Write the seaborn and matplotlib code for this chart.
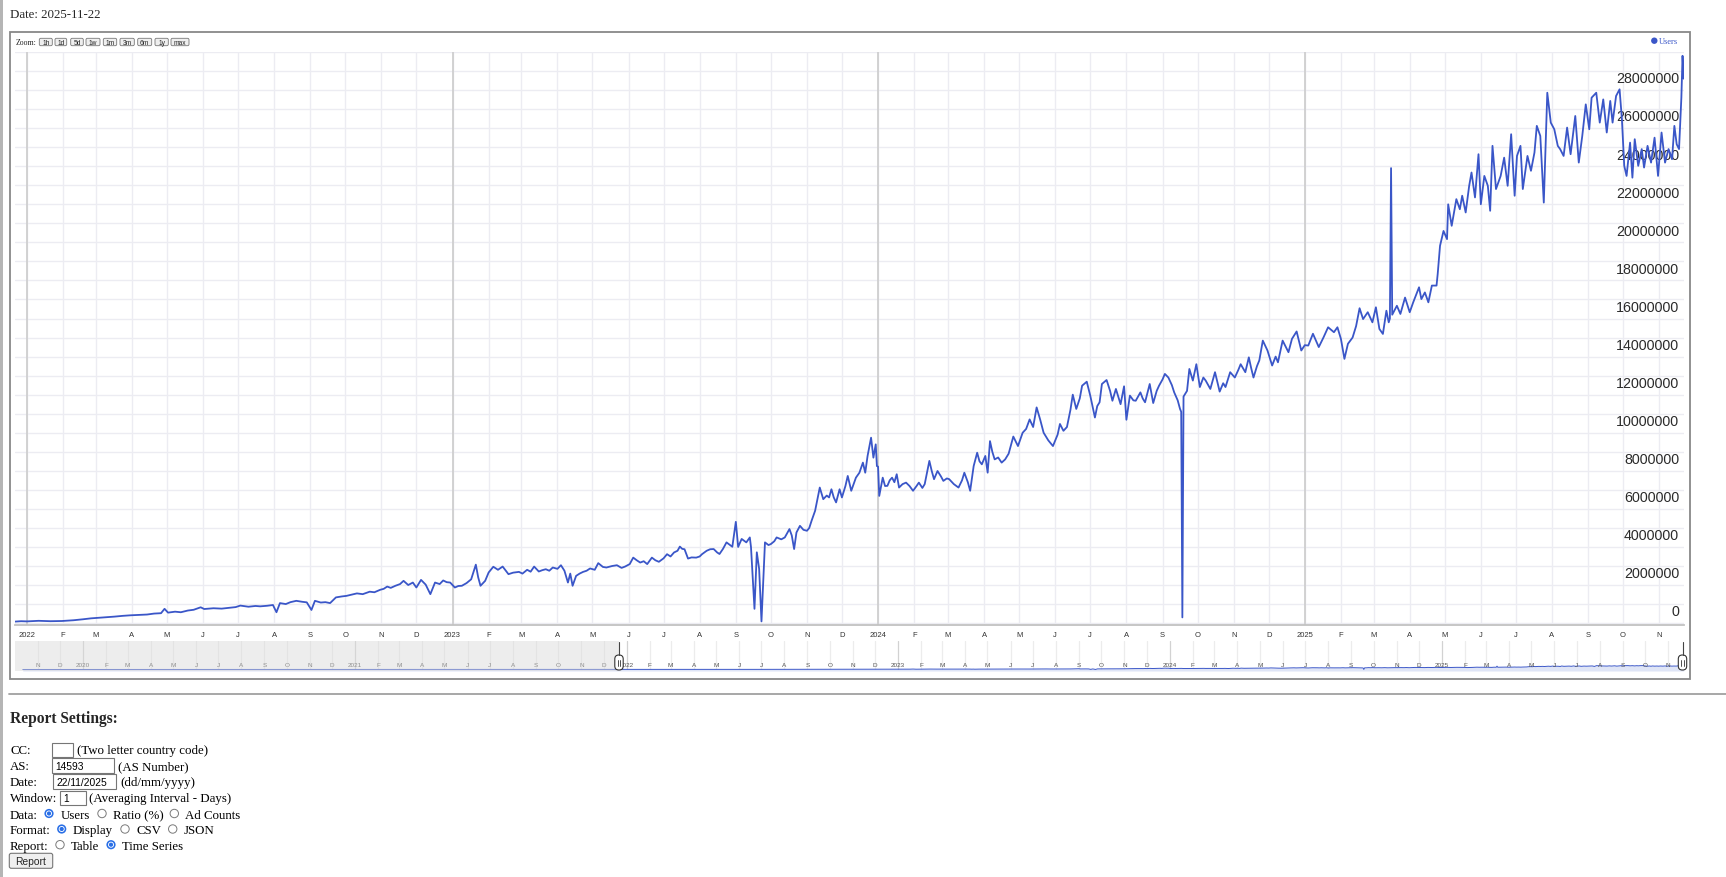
import matplotlib
matplotlib.use("Agg")
import matplotlib.pyplot as plt
from matplotlib.patches import Rectangle, Circle, FancyBboxPatch
import seaborn as sns
import pandas as pd
import numpy as np

# daily users in millions (day 0 = 2022-01-01)
days_pre = [-812, -780, -750, -720, -690, -660, -630, -600, -570, -540, -510, -480, -450, -420, -390,
            -360, -330, -300, -270, -240, -210, -180, -150, -120, -90, -60, -30, -10, -5]
users_pre = [0.03, 0.03, 0.04, 0.04, 0.05, 0.05, 0.05, 0.06, 0.06, 0.06, 0.07, 0.07, 0.07, 0.08, 0.08,
             0.08, 0.08, 0.09, 0.09, 0.09, 0.09, 0.1, 0.1, 0.1, 0.1, 0.1, 0.09, 0.08, 0.1]

days_2022 = [0, 10, 20, 30, 40, 48, 55, 62, 68, 75, 82, 89, 96, 103, 109, 115, 118, 121, 127, 132,
             138, 143, 149, 152, 160, 167, 174, 179, 183, 190, 196, 200, 206, 211, 214, 217, 222, 226, 231, 236,
             240, 244, 247, 252, 256, 260, 265, 270, 274, 279, 283, 288, 294, 298, 303, 306, 309, 312, 316, 320,
             323, 327, 331, 334, 338, 342, 346, 350, 354, 357, 360, 363]
users_2022 = [0.09, 0.12, 0.1, 0.11, 0.15, 0.2, 0.25, 0.28, 0.3, 0.34, 0.38, 0.41, 0.43, 0.45, 0.5, 0.52, 0.75, 0.55, 0.6, 0.57,
              0.66, 0.7, 0.83, 0.74, 0.78, 0.76, 0.81, 0.84, 0.92, 0.86, 0.9, 0.88, 0.91, 0.95, 0.57, 1.05, 1.0, 1.1, 1.17, 1.12,
              1.09, 0.69, 1.17, 1.08, 1.1, 1.05, 1.35, 1.4, 1.43, 1.5, 1.56, 1.52, 1.65, 1.62, 1.75, 1.8, 1.92, 1.85, 1.96, 2.05,
              2.22, 2.0, 2.13, 1.87, 2.27, 2.02, 1.52, 2.13, 2.05, 2.24, 2.15, 2.13]

days_2023 = [367, 370, 373, 377, 381, 385, 387, 389, 393, 396, 400, 404, 408, 413, 417, 422, 425, 429, 432, 435,
             439, 442, 445, 448, 451, 455, 458, 461, 464, 466, 468, 471, 474, 477, 480, 483, 487, 490, 494, 497,
             502, 506, 510, 513, 517, 520, 523, 526, 529, 532, 536, 539, 542, 546, 549, 552, 555, 558, 560, 562,
             564, 567, 570, 574, 577, 579, 583, 586, 589, 592, 594, 597, 600, 603, 605, 608, 610, 613, 617, 620,
             621, 624, 626, 628, 630, 633, 636, 638, 641, 643, 647, 650, 654, 656, 658, 660, 663, 666, 669, 671,
             673, 676, 680, 683, 686, 688, 690, 692, 694, 697, 699, 702, 704, 707, 709, 711, 714, 717, 719, 721,
             724, 726, 728, 729]
users_2023 = [1.87, 1.95, 1.96, 2.1, 2.3, 3.07, 2.41, 1.96, 2.22, 2.66, 2.96, 2.8, 2.97, 2.57, 2.65, 2.69, 2.6, 2.8, 2.7, 2.97,
              2.71, 2.78, 2.83, 2.75, 2.92, 2.85, 3.04, 2.75, 2.13, 2.6, 1.96, 2.48, 2.6, 2.69, 2.75, 2.87, 2.8, 3.15, 2.95, 2.92,
              3.0, 3.04, 2.9, 2.97, 3.1, 3.44, 3.3, 3.18, 3.25, 3.1, 3.44, 3.3, 3.22, 3.4, 3.62, 3.5, 3.71, 3.8, 4.02, 3.9,
              3.88, 3.39, 3.45, 3.44, 3.5, 3.62, 3.8, 3.88, 3.89, 3.71, 3.63, 3.9, 4.24, 4.1, 4.01, 5.32, 4.0, 4.42, 4.24, 4.5,
              4.0, 0.75, 3.72, 2.85, 0.09, 4.24, 4.1, 4.15, 4.3, 4.5, 4.4, 4.5, 4.94, 4.6, 3.89, 4.76, 5.11, 4.9, 4.85, 5.0,
              5.38, 5.9, 7.12, 6.51, 6.7, 6.6, 7.03, 6.6, 6.34, 7.03, 6.6, 7.2, 7.73, 6.95, 7.3, 7.64, 7.9, 8.43, 7.9, 8.78,
              9.74, 8.69, 9.39, 8.25]

days_2024 = [730, 731, 734, 736, 738, 740, 742, 744, 746, 748, 751, 754, 757, 760, 763, 765, 768, 770, 772, 774,
             776, 778, 781, 784, 786, 789, 791, 795, 799, 802, 804, 807, 809, 812, 815, 817, 819, 822, 824, 826,
             828, 830, 833, 836, 839, 842, 846, 850, 854, 857, 860, 863, 866, 869, 872, 876, 880, 884, 886, 889,
             892, 895, 897, 900, 903, 905, 909, 912, 916, 918, 920, 922, 926, 929, 931, 934, 936, 938, 941, 943,
             946, 949, 951, 955, 957, 959, 963, 966, 969, 971, 974, 976, 979, 982, 984, 987, 989, 990, 991, 992,
             995, 997, 1000, 1003, 1006, 1009, 1011, 1015, 1019, 1023, 1026, 1028, 1032, 1036, 1039, 1041, 1045, 1048, 1050, 1052,
             1055, 1057, 1060, 1064, 1068, 1071, 1073, 1077, 1082, 1085, 1089, 1093]
users_2024 = [8.22, 6.68, 7.64, 7.2, 7.21, 7.5, 7.64, 7.4, 7.82, 7.12, 7.3, 7.38, 7.2, 6.95, 7.2, 7.38, 7.1, 7.3, 7.9, 8.52,
              8.0, 7.56, 7.99, 7.7, 7.47, 7.6, 7.56, 7.3, 7.12, 7.5, 7.9, 7.4, 6.95, 8.25, 8.95, 8.5, 8.34, 8.78, 7.9, 9.56,
              9.0, 8.6, 8.7, 8.43, 8.6, 8.9, 9.8, 9.3, 10.0, 10.2, 10.7, 10.3, 11.33, 10.7, 10.0, 9.6, 9.3, 9.9, 10.46, 10.1,
              10.3, 11.2, 12.0, 11.25, 11.8, 12.47, 12.68, 11.95, 10.8, 11.4, 11.6, 12.56, 12.77, 12.2, 11.68, 12.3, 11.9, 11.5, 12.44, 10.68,
              11.95, 11.7, 11.68, 12.12, 11.8, 11.6, 12.56, 11.56, 12.2, 12.47, 12.8, 13.09, 12.9, 12.5, 12.12, 11.7, 11.25, 11.1, 0.3, 11.9,
              12.2, 13.35, 12.74, 13.6, 12.4, 12.9, 12.74, 12.3, 13.18, 12.16, 12.6, 12.4, 13.18, 12.9, 13.3, 13.6, 13.18, 13.96, 13.4, 12.9,
              13.5, 13.8, 14.84, 14.32, 13.53, 14.0, 13.7, 14.84, 14.23, 14.93, 15.32, 14.32]

days_2025 = [1096, 1099, 1103, 1108, 1112, 1116, 1121, 1124, 1127, 1130, 1133, 1137, 1140, 1143, 1146, 1150, 1154, 1157, 1160, 1163,
             1166, 1168, 1169, 1170, 1171, 1175, 1178, 1182, 1186, 1189, 1194, 1196, 1199, 1202, 1205, 1209, 1210, 1212, 1215, 1218,
             1219, 1222, 1226, 1229, 1231, 1234, 1237, 1239, 1242, 1245, 1247, 1250, 1253, 1255, 1257, 1260, 1264, 1267, 1270, 1273,
             1276, 1278, 1281, 1283, 1287, 1290, 1293, 1295, 1298, 1301, 1304, 1307, 1310, 1313, 1315, 1318, 1321, 1324, 1328, 1331,
             1334, 1337, 1340, 1342, 1346, 1349, 1352, 1355, 1358, 1360, 1363, 1366, 1368, 1370, 1372, 1375, 1377, 1379, 1382, 1385,
             1387, 1390, 1393, 1396, 1399, 1402, 1405, 1408, 1411, 1413, 1415, 1417, 1419, 1420, 1421]
users_2025 = [14.6, 14.58, 15.2, 14.5, 15.0, 15.54, 15.28, 15.54, 14.93, 13.88, 14.67, 15.0, 15.6, 16.54, 15.97, 16.33, 15.8, 16.59, 15.45, 15.19,
              16.41, 15.8, 16.0, 23.9, 16.2, 16.67, 16.24, 17.1, 16.33, 16.85, 17.64, 17.02, 17.37, 16.85, 17.73, 17.73, 18.34, 19.82, 20.6, 20.17,
              22.0, 20.87, 22.27, 21.74, 22.45, 21.57, 22.97, 23.67, 22.36, 24.63, 22.0, 23.49, 22.97, 21.66, 25.07, 22.8, 23.49, 24.45, 22.97, 25.68,
              22.45, 24.54, 25.07, 22.8, 24.54, 23.76, 24.72, 26.12, 25.59, 22.09, 27.86, 26.29, 25.94, 25.07, 24.9, 24.54, 26.03, 24.63, 26.64, 24.19,
              25.59, 27.25, 25.94, 27.6, 27.86, 26.29, 27.51, 25.77, 27.43, 26.29, 27.69, 28.04, 26.47, 24.02, 23.49, 25.24, 23.4, 25.42, 24.02, 24.9,
              23.93, 25.07, 24.19, 25.5, 23.49, 25.77, 24.19, 24.9, 24.37, 26.12, 25.15, 24.9, 27.6, 29.8, 28.6]

month_letters = ["J", "F", "M", "A", "M", "J", "J", "A", "S", "O", "N", "D"]
y_label_values = list(range(0, 28000001, 2000000))
zoom_buttons = ["1h", "1d", "5d", "1w", "1m", "3m", "6m", "1y", "max"]

LINE = "#3a56c8"
RADIO = "#2a6fe6"
SERIF = ["Liberation Serif", "DejaVu Serif"]
SANS = ["Liberation Sans", "DejaVu Sans"]
W, H = 1726, 878


def box(x0, y0, x1, y1):
    # pixel box (top-left origin) -> figure fraction rect
    return [x0 / W, 1 - y1 / H, (x1 - x0) / W, (y1 - y0) / H]


origin = pd.Timestamp("2022-01-01")
all_days = days_pre + days_2022 + days_2023 + days_2024 + days_2025
all_users = users_pre + users_2022 + users_2023 + users_2024 + users_2025
df = pd.DataFrame({"date": origin + pd.to_timedelta(all_days, unit="D"),
                   "users": np.array(all_users) * 1e6})

view_start = pd.Timestamp("2021-12-22")
view_end = pd.Timestamp("2025-11-22")
sel_start = pd.Timestamp("2019-10-02")

sns.set_style("white")
plt.rcParams["font.family"] = SANS

fig = plt.figure(figsize=(W / 100, H / 100), dpi=100)
fig.patch.set_facecolor("white")

# ---- main chart ----
ax = fig.add_axes(box(15.3, 53, 1683.7, 626))
main = df[df["date"] >= view_start]
sns.lineplot(data=main, x="date", y="users", ax=ax, color=LINE, linewidth=1.3,
             estimator=None, zorder=3)
ax.set_xlim(view_start, view_end)
ax.set_ylim(-0.1e6, 30e6)
ax.set_yticks(np.arange(0, 31e6, 1e6))
ax.set_yticklabels([])
months = pd.date_range("2022-01-01", "2025-11-01", freq="MS")
ax.set_xticks(months)
ax.set_xticklabels([str(d.year) if d.month == 1 else month_letters[d.month - 1] for d in months],
                   fontsize=5.5, color="#333333")
ax.tick_params(axis="both", length=0)
ax.tick_params(axis="x", pad=4.3)
ax.set_axisbelow(True)
ax.grid(True, color="#ececf2", linewidth=1.0)
for d in months[months.month == 1]:
    ax.axvline(d, color="#cfcfcf", linewidth=1.3, zorder=1)
for s in ["top", "right", "left"]:
    ax.spines[s].set_visible(False)
ax.spines["bottom"].set_color("#c2c2c2")
ax.spines["bottom"].set_linewidth(1.3)
ax.set_xlabel("")
ax.set_ylabel("")
for v in y_label_values:
    ax.annotate(str(v), xy=(1, v), xycoords=("axes fraction", "data"), xytext=(-4.5, 11.7),
                textcoords="offset pixels", ha="right", va="center", fontsize=10.3,
                color="#2a2a2a", annotation_clip=False, zorder=2)

# ---- range selector ----
ax2 = fig.add_axes(box(15.3, 642, 1683.7, 672))
ax2.fill_between(df["date"], df["users"], -11e6, color="#dfe5f6", linewidth=0, zorder=1)
sns.lineplot(data=df, x="date", y="users", ax=ax2, color=LINE, linewidth=0.7,
             estimator=None, zorder=2)
ax2.set_xlim(sel_start, view_end)
ax2.set_ylim(-11e6, 206e6)
sel_months = pd.date_range("2019-11-01", "2025-11-01", freq="MS")
for d in sel_months:
    ax2.axvline(d, color="#d2d2d2" if d.month == 1 else "#ececec", linewidth=0.9, zorder=0)
    lab = str(d.year) if d.month == 1 else month_letters[d.month - 1]
    ax2.text(d, 0.2, lab, transform=ax2.get_xaxis_transform(), ha="center", va="center",
             fontsize=4.6, color="#555555", zorder=3)
ax2.axvspan(sel_start, view_start, color="#d9d9d9", alpha=0.45, linewidth=0, zorder=5)
ax2.set_xticks([])
ax2.set_yticks([])
ax2.set_xlabel("")
ax2.set_ylabel("")
for s in ax2.spines.values():
    s.set_visible(False)

# ---- page overlay in pixel coordinates ----
ov = fig.add_axes([0, 0, 1, 1])
ov.set_zorder(10)
ov.patch.set_alpha(0)
ov.set_xlim(0, W)
ov.set_ylim(H, 0)
ov.axis("off")

ov.add_patch(Rectangle((0, 0), 2.7, H, color="#b5b5b5", lw=0))
ov.text(10, 14.5, "Date: 2025-11-22", family=SERIF, fontsize=9.3, va="center")
ov.add_patch(Rectangle((10, 33), 1680, 647, fill=False, ec="#888888", lw=1.3))

# zoom buttons
ov.text(15.7, 42.7, "Zoom:", family=SERIF, fontsize=5.7, va="center", color="#222222")
btn_x = [(39.3, 52.3), (55, 66.7), (70.7, 83.3), (86, 100), (103.3, 116.7), (120, 134.3),
         (137.7, 151.7), (155, 168.3), (171, 189)]
for lab, (x0, x1) in zip(zoom_buttons, btn_x):
    ov.add_patch(FancyBboxPatch((x0, 39.3), x1 - x0, 7.4, boxstyle="round,pad=0,rounding_size=1.5",
                                fc="#efefef", ec="#777777", lw=0.6))
    ov.text((x0 + x1) / 2, 43.1, lab, family=SANS, fontsize=4.8, ha="center", va="center", color="#222222")

# legend
ov.add_patch(Circle((1654.3, 41.7), 3.2, color=LINE, lw=0))
ov.text(1659, 42, "Users", family=SERIF, fontsize=6, va="center", color=LINE)

# selector handles
for hx in [619, 1682.5]:
    ov.plot([hx, hx], [643, 656], color="#444444", lw=0.8)
    ov.add_patch(FancyBboxPatch((hx - 4.2, 656), 8.4, 15, boxstyle="round,pad=0,rounding_size=4",
                                fc="white", ec="#333333", lw=0.8))
    for dx in (-1.3, 1.3):
        ov.plot([hx + dx, hx + dx], [660.5, 666.5], color="#333333", lw=0.6)

ov.plot([9, W], [695, 695], color="#a0a0a0", lw=1.3)

# report settings form
ov.text(10, 719.3, "Report Settings:", family=SERIF, fontsize=11.2, fontweight="bold", va="center")


def label(x, y, s, fam=SERIF, size=9.3):
    ov.text(x, y, s, family=fam, fontsize=size, va="center", color="black")


def field(x0, y0, x1, y1, s=""):
    ov.add_patch(Rectangle((x0, y0), x1 - x0, y1 - y0, fc="white", ec="#767676", lw=0.8))
    if s:
        label(x0 + 3, (y0 + y1) / 2 + 0.3, s, fam=SANS, size=7.4)


def radio(x, y, on):
    if on:
        ov.add_patch(Circle((x, y), 4.6, fc=RADIO, lw=0))
        ov.add_patch(Circle((x, y), 3.0, fc="white", lw=0))
        ov.add_patch(Circle((x, y), 2.1, fc=RADIO, lw=0))
    else:
        ov.add_patch(Circle((x, y), 4.2, fc="white", ec="#7a7a7a", lw=0.7))


label(10, 751, "CC:")
field(52.3, 744, 73.3, 757.7)
label(76.7, 751, "(Two letter country code)")
label(10, 767, "AS:")
field(52.3, 759.3, 114.3, 774.3, "14593")
label(118.3, 767, "(AS Number)")
label(10, 783, "Date:")
field(53.3, 775.3, 115.7, 790, "22/11/2025")
label(120, 783, "(dd/mm/yyyy)")
label(10, 799, "Window:")
field(60, 791.7, 85.7, 806, "1")
label(89.3, 799, "(Averaging Interval - Days)")

label(10, 816, "Data:")
radio(49, 814.5, True)
label(60.7, 816, "Users")
radio(102, 814.5, False)
label(112.7, 816, "Ratio (%)")
radio(174.3, 814.5, False)
label(185.3, 816, "Ad Counts")

label(10, 831, "Format:")
radio(61.7, 830, True)
label(72.7, 831, "Display")
radio(125, 830, False)
label(136, 831, "CSV")
radio(172.7, 830, False)
label(184, 831, "JSON")

label(10, 846.7, "Report:")
radio(60, 845.7, False)
label(71, 846.7, "Table")
radio(111, 845.7, True)
label(122, 846.7, "Time Series")

ov.add_patch(FancyBboxPatch((9.3, 854.3), 43.4, 15, boxstyle="round,pad=0,rounding_size=2",
                            fc="#efefef", ec="#767676", lw=0.8))
ov.text(31, 862, "Report", family=SANS, fontsize=7.4, ha="center", va="center")

fig.savefig("out.png", dpi=100, facecolor="white")
